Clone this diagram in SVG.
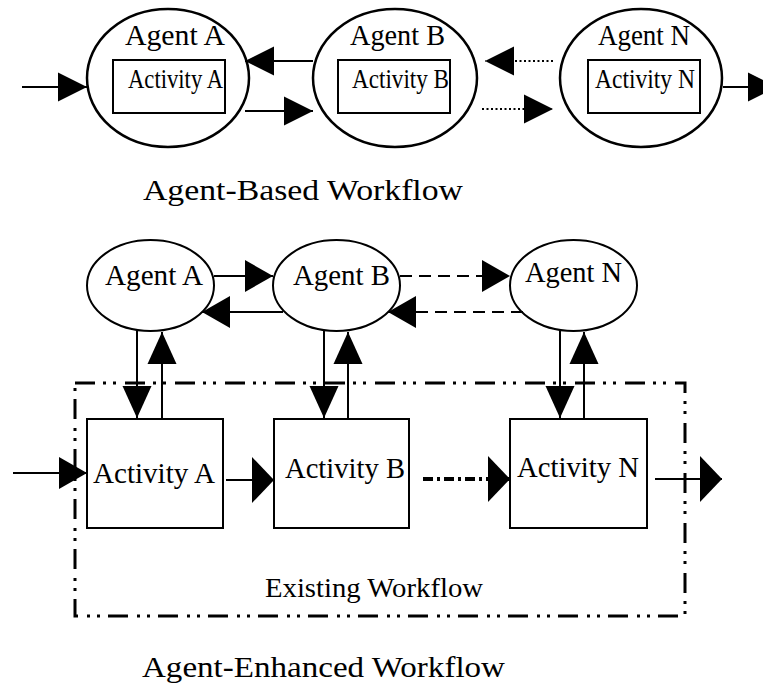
<svg xmlns="http://www.w3.org/2000/svg" width="763" height="684" viewBox="0 0 763 684">
<style>
.shape{fill:#fff;stroke:#000;stroke-width:2.5}
.box{fill:#fff;stroke:#000;stroke-width:2}
.t{fill:#000}
.ln{stroke:#000;stroke-width:2;fill:none}
.dot{stroke-dasharray:2,2.5}
.dash{stroke-dasharray:12,7}
.dd{stroke-width:4;stroke-dasharray:10,4,3,4}
.frame{fill:none;stroke:#000;stroke-width:3;stroke-dasharray:20,8,3,7,3,9}
</style>
<defs>
<marker id="ah" markerUnits="userSpaceOnUse" markerWidth="30" markerHeight="30" refX="29" refY="14.5" orient="auto" overflow="visible"><path d="M0,0 L29,14.5 L0,29 Z" fill="#000"/></marker>
<marker id="ahw" markerUnits="userSpaceOnUse" markerWidth="30" markerHeight="34" refX="28" refY="16" orient="auto" overflow="visible"><path d="M0,0 L28,16 L0,32 Z" fill="#000"/></marker>
<marker id="ahb" markerUnits="userSpaceOnUse" markerWidth="24" markerHeight="48" refX="22" refY="23" orient="auto" overflow="visible"><path d="M0,0 L22,23 L0,46 Z" fill="#000"/></marker>
<marker id="av" markerUnits="userSpaceOnUse" markerWidth="34" markerHeight="30" refX="32" refY="14.5" orient="auto" overflow="visible"><path d="M0,0 L32,14.5 L0,29 Z" fill="#000"/></marker>
</defs>

<rect id="existing-workflow" class="frame" x="75" y="383" width="610" height="233"/>

<g font-family="Liberation Serif, Tinos, Times New Roman, serif">
<g id="top-agent-a">
<ellipse class="shape" cx="168" cy="78" rx="81" ry="69"/>
<text class="t" x="125" y="45" font-size="29" textLength="100" lengthAdjust="spacingAndGlyphs">Agent A</text>
<rect class="box" x="113" y="60" width="112" height="53"/>
<text class="t" x="128" y="88" font-size="27" textLength="95" lengthAdjust="spacingAndGlyphs">Activity A</text>
</g>
<g id="top-agent-b">
<ellipse class="shape" cx="395" cy="78" rx="82" ry="69"/>
<text class="t" x="350" y="45" font-size="29" textLength="95" lengthAdjust="spacingAndGlyphs">Agent B</text>
<rect class="box" x="338" y="60" width="112" height="53"/>
<text class="t" x="352" y="88" font-size="27" textLength="97" lengthAdjust="spacingAndGlyphs">Activity B</text>
</g>
<g id="top-agent-n">
<ellipse class="shape" cx="641" cy="78" rx="81" ry="69"/>
<text class="t" x="598" y="45" font-size="29" textLength="92" lengthAdjust="spacingAndGlyphs">Agent N</text>
<rect class="box" x="588" y="60" width="112" height="53"/>
<text class="t" x="595" y="88" font-size="27" textLength="100" lengthAdjust="spacingAndGlyphs">Activity N</text>
</g>
<text id="title-top" class="t" x="143" y="200" font-size="30" textLength="320" lengthAdjust="spacingAndGlyphs">Agent-Based Workflow</text>

<g id="agent-a">
<ellipse class="box" cx="150.5" cy="285.5" rx="63.5" ry="45.5"/>
<text class="t" x="105" y="285" font-size="29" textLength="98" lengthAdjust="spacingAndGlyphs">Agent A</text>
</g>
<g id="agent-b">
<ellipse class="box" cx="336.5" cy="285.5" rx="63.5" ry="45.5"/>
<text class="t" x="293" y="285" font-size="29" textLength="97" lengthAdjust="spacingAndGlyphs">Agent B</text>
</g>
<g id="agent-n">
<ellipse class="box" cx="573.5" cy="285.5" rx="63.5" ry="45.5"/>
<text class="t" x="525" y="282" font-size="29" textLength="97" lengthAdjust="spacingAndGlyphs">Agent N</text>
</g>
<g id="activity-a">
<rect class="box" x="87" y="419" width="136" height="109"/>
<text class="t" x="93" y="483" font-size="29" textLength="122" lengthAdjust="spacingAndGlyphs">Activity A</text>
</g>
<g id="activity-b">
<rect class="box" x="274" y="419" width="135" height="109"/>
<text class="t" x="285" y="478" font-size="29" textLength="120" lengthAdjust="spacingAndGlyphs">Activity B</text>
</g>
<g id="activity-n">
<rect class="box" x="510" y="419" width="137" height="109"/>
<text class="t" x="517" y="477" font-size="29" textLength="122" lengthAdjust="spacingAndGlyphs">Activity N</text>
</g>
<text id="existing-label" class="t" x="265" y="597" font-size="28" textLength="218" lengthAdjust="spacingAndGlyphs">Existing Workflow</text>
<text id="title-bottom" class="t" x="142" y="677" font-size="30" textLength="363" lengthAdjust="spacingAndGlyphs">Agent-Enhanced Workflow</text>
</g>

<g id="connectors">
<line class="ln" x1="22" y1="87" x2="87" y2="87" marker-end="url(#ah)"/>
<line class="ln" x1="313" y1="61" x2="245" y2="61" marker-end="url(#ah)"/>
<line class="ln" x1="245" y1="111" x2="313" y2="111" marker-end="url(#ah)"/>
<line class="ln dot" x1="553" y1="61" x2="485" y2="61" marker-end="url(#ah)"/>
<line class="ln dot" x1="482" y1="109" x2="553" y2="109" marker-end="url(#ah)"/>
<line class="ln" x1="723" y1="87" x2="777" y2="87" marker-end="url(#ah)"/>

<line class="ln" x1="214" y1="276" x2="273" y2="276" marker-end="url(#ahw)"/>
<line class="ln" x1="283" y1="312" x2="202" y2="312" marker-end="url(#ahw)"/>
<line class="ln dash" x1="400" y1="276" x2="510" y2="276" marker-end="url(#ahw)"/>
<line class="ln dash" x1="523" y1="312" x2="388" y2="312" marker-end="url(#ahw)"/>

<line class="ln" x1="137" y1="331" x2="137" y2="418" marker-end="url(#av)"/>
<line class="ln" x1="162" y1="418" x2="162" y2="332" marker-end="url(#av)"/>
<line class="ln" x1="324" y1="331" x2="324" y2="418" marker-end="url(#av)"/>
<line class="ln" x1="348" y1="418" x2="348" y2="332" marker-end="url(#av)"/>
<line class="ln" x1="560" y1="331" x2="560" y2="418" marker-end="url(#av)"/>
<line class="ln" x1="584" y1="418" x2="584" y2="332" marker-end="url(#av)"/>

<line class="ln" x1="13" y1="473" x2="87" y2="473" marker-end="url(#ahw)"/>
<line class="ln" x1="226" y1="480" x2="274" y2="480" marker-end="url(#ahb)"/>
<line class="ln dd" x1="423" y1="479" x2="510" y2="479" marker-end="url(#ahb)"/>
<line class="ln" x1="655" y1="479" x2="722" y2="479" marker-end="url(#ahb)"/>
</g>
</svg>
